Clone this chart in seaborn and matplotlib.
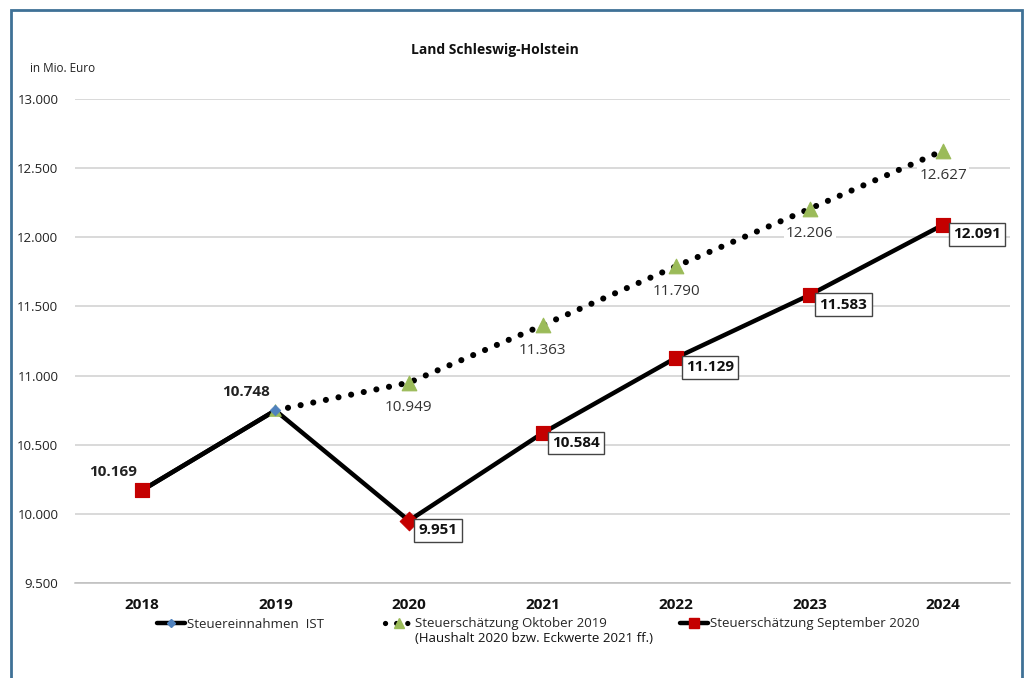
import numpy as np
import pandas as pd
import matplotlib
matplotlib.use("Agg")
import matplotlib.pyplot as plt
from matplotlib.lines import Line2D
from matplotlib.patches import Rectangle
import seaborn as sns

# data (Mio. Euro)
years = ["2018", "2019", "2020", "2021", "2022", "2023", "2024"]
ist_years = ["2018", "2019"]
ist = [10169, 10748]
okt_years = ["2019", "2020", "2021", "2022", "2023", "2024"]
okt2019 = [10748, 10949, 11363, 11790, 12206, 12627]
sep_years = ["2018", "2019", "2020", "2021", "2022", "2023", "2024"]
sep2020 = [10169, 10748, 9951, 10584, 11129, 11583, 12091]

sns.set_theme(style="white")
plt.rcParams["font.family"] = ["Open Sans", "DejaVu Sans"]

RED = "#c40000"
GREEN = "#9bbb59"
BLUE = "#4f81bd"
DOTS = (0, (0.01, 2.1))


def fmt(v):
    return f"{v:,.0f}".replace(",", ".")


pos = {y: i for i, y in enumerate(years)}
df_ist = pd.DataFrame({"x": [pos[y] for y in ist_years], "v": ist})
df_okt = pd.DataFrame({"x": [pos[y] for y in okt_years], "v": okt2019})
df_sep = pd.DataFrame({"x": [pos[y] for y in sep_years], "v": sep2020})

fig = plt.figure(figsize=(10.28, 6.78), dpi=100)
ax = fig.add_axes([75 / 1028, 1 - 583 / 678, 935 / 1028, 484 / 678])

# lines
sns.lineplot(data=df_okt, x="x", y="v", ax=ax, color="black", lw=4.4,
             linestyle=DOTS, dash_capstyle="round", zorder=3)
sns.lineplot(data=df_sep, x="x", y="v", ax=ax, color="black", lw=3.2, zorder=4)
sns.lineplot(data=df_ist, x="x", y="v", ax=ax, color="black", lw=3.2, zorder=4)

# markers
sns.scatterplot(data=df_okt.iloc[1:], x="x", y="v", ax=ax, marker="^", s=110,
                color=GREEN, edgecolor=GREEN, zorder=5)
sns.scatterplot(data=df_okt.iloc[:1], x="x", y="v", ax=ax, marker="^", s=70,
                color=GREEN, edgecolor=GREEN, zorder=5)
sns.scatterplot(data=df_ist, x="x", y="v", ax=ax, marker="D", s=30,
                color=BLUE, edgecolor=BLUE, zorder=6)
sq = df_sep[df_sep["x"].isin([pos[y] for y in ["2018", "2021", "2022", "2023", "2024"]])]
dm = df_sep[df_sep["x"] == pos["2020"]]
sns.scatterplot(data=sq, x="x", y="v", ax=ax, marker="s", s=110,
                color=RED, edgecolor=RED, zorder=7)
sns.scatterplot(data=dm, x="x", y="v", ax=ax, marker="D", s=90,
                color=RED, edgecolor=RED, zorder=7)

# labels
for x, v in zip(df_ist["x"], df_ist["v"]):
    ax.annotate(fmt(v), (x, v), xytext=(-21, 13), textcoords="offset points",
                ha="center", va="center", fontsize=11, fontweight="bold",
                color="#222222", zorder=8)
for x, v in zip(df_okt["x"][1:], df_okt["v"][1:]):
    ax.annotate(fmt(v), (x, v), xytext=(0, -18), textcoords="offset points",
                ha="center", va="center", fontsize=11, color="#333333",
                bbox=dict(boxstyle="square,pad=0.15", fc="white", ec="none"),
                zorder=8)
for x, v in zip(df_sep["x"][2:], df_sep["v"][2:]):
    ax.annotate(fmt(v), (x, v), xytext=(7, -7), textcoords="offset points",
                ha="left", va="center", fontsize=11, fontweight="bold",
                color="#111111",
                bbox=dict(boxstyle="square,pad=0.28", fc="white", ec="#444444", lw=1),
                zorder=8)

# axes
ax.set_xlim(-0.5, len(years) - 0.5)
ax.set_ylim(9500, 13000)
yt = np.arange(9500, 13001, 500)
ax.set_yticks(yt)
ax.set_yticklabels([fmt(v) for v in yt], fontsize=9.5, color="#222222")
ax.set_xticks(range(len(years)))
ax.set_xticklabels(years, fontsize=11, fontweight="bold", color="#111111")
ax.set_xticks(np.arange(-0.5, len(years)), minor=True)
ax.tick_params(axis="x", which="major", length=0, pad=11)
ax.tick_params(axis="x", which="minor", length=5, color="#bdbdbd", width=1)
ax.tick_params(axis="y", length=0, pad=12)
ax.set_xlabel("")
ax.set_ylabel("")
ax.grid(axis="y", color="#d0d0d0", lw=1.1)
ax.set_axisbelow(True)
for s in ["top", "right", "left"]:
    ax.spines[s].set_visible(False)
ax.spines["bottom"].set_color("#bdbdbd")
ax.spines["bottom"].set_linewidth(1.1)

# legend: three separate entries placed like the original
handles = [
    Line2D([], [], color="black", lw=3.2, marker="D", ms=4, mfc=BLUE, mec=BLUE),
    Line2D([], [], color="black", lw=3.8, linestyle=DOTS,
           dash_capstyle="round", marker="^", ms=7, mfc=GREEN, mec=GREEN),
    Line2D([], [], color="black", lw=3.2, marker="s", ms=7, mfc=RED, mec=RED),
]
labels = ["Steuereinnahmen  IST", "Steuerschätzung Oktober 2019",
          "Steuerschätzung September 2020"]
starts = [157, 385, 680]
legs = []
for h, lab, x in zip(handles, labels, starts):
    lg = fig.legend([h], [lab], loc="center left",
                    bbox_to_anchor=(x / 1028, 1 - 624 / 678), frameon=False,
                    fontsize=9.5, handlelength=2.1, handletextpad=0.15,
                    borderpad=0, borderaxespad=0)
    legs.append(lg)

fig.text(495 / 1028, 1 - 50 / 678, "Land Schleswig-Holstein", ha="center",
         va="center", fontsize=10, fontweight="bold", color="#111111")
fig.text(30 / 1028, 1 - 68 / 678, "in Mio. Euro", ha="left", va="center",
         fontsize=8.5, color="#222222")

# frame
fig.patches.append(Rectangle((11 / 1028, -0.1), 1011 / 1028, 1.1 - 10 / 678,
                             transform=fig.transFigure, fill=False,
                             ec="#3f7196", lw=2, clip_on=False))

fig.canvas.draw()
bb = legs[1].get_texts()[0].get_window_extent()
x0, y0 = fig.transFigure.inverted().transform((bb.x0, bb.y0))
fig.text(x0, y0 - 2 / 678, "(Haushalt 2020 bzw. Eckwerte 2021 ff.)",
         ha="left", va="top", fontsize=9.5, color="#111111")

fig.savefig("out.png", dpi=100)
